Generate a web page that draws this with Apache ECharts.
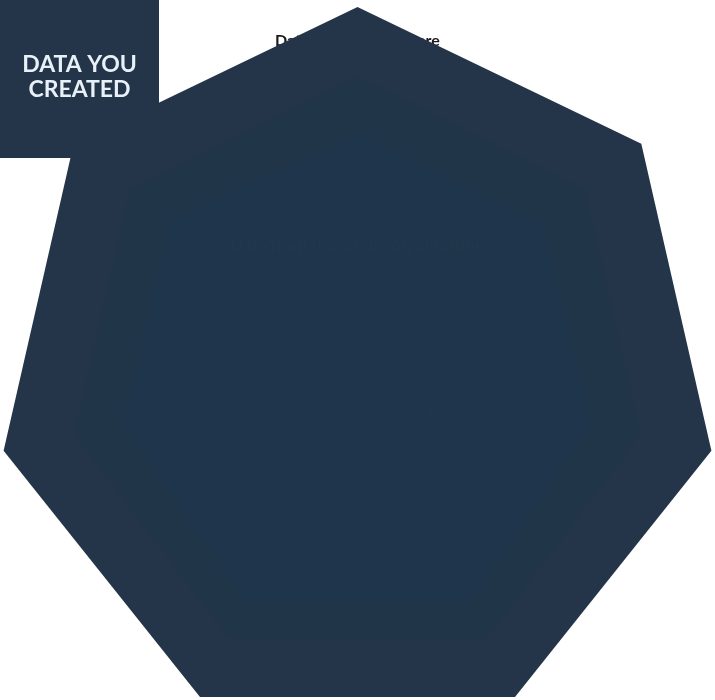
<!DOCTYPE html>
<html>
<head>
<meta charset="utf-8">
<script src="https://cdn.jsdelivr.net/npm/echarts@6/dist/echarts.min.js"></script>
<style>
html, body { margin: 0; padding: 0; background: #fff; }
#radar { width: 715px; height: 700px; }
</style>
</head>
<body>
<div id="radar"></div>
<script>
var radar = echarts.init(document.getElementById('radar'));

// 7 axes
var indicatorNames = ['A', 'B', 'C', 'D', 'E', 'F', 'G'];
var indicatorMax = [100, 100, 100, 100, 100, 100, 100];
// outer layer is full, inner layers barely show through
var createdValues = [100, 100, 100, 100, 100, 100, 100];
var wholeOrgValues = [81, 80, 80, 82, 82, 80, 80];
var yourOrgValues = [65, 66, 66, 71, 71, 66, 65];

var indicators = [];
for (var i = 0; i < indicatorNames.length; i++) {
	indicators.push({ name: indicatorNames[i], max: indicatorMax[i] });
}

function layer(name, values, color) {
	return {
		name: name,
		type: 'radar',
		symbol: 'none',
		lineStyle: { width: 0, opacity: 0 },
		areaStyle: { color: color, opacity: 1 },
		data: [{ value: values, name: name }]
	};
}

var option = {
	animation: false,
	graphic: [{
		// title sits under the polygon
		type: 'text',
		z: 0,
		left: 275,
		top: 33,
		style: {
			text: 'Data You Can Compare',
			fill: '#1a1a1a',
			font: 'bold 16px Lato, sans-serif'
		}
	}, {
		type: 'text',
		z: 10,
		left: 'center',
		top: 237,
		style: {
			text: 'Data from the whole organisation',
			fill: '#21374c',
			font: 'bold 17px Lato, sans-serif'
		}
	}, {
		type: 'text',
		z: 10,
		left: 'center',
		top: 405,
		style: {
			text: 'Data from your organisation',
			fill: '#20364c',
			font: 'bold 17px Lato, sans-serif'
		}
	}, {
		type: 'group',
		z: 10,
		left: 0,
		top: 0,
		children: [{
			type: 'rect',
			z: 10,
			shape: { x: 0, y: 0, width: 159, height: 158 },
			style: { fill: '#243449' }
		}, {
			type: 'text',
			z: 11,
			x: 79.5,
			y: 77,
			style: {
				text: 'DATA YOU\nCREATED',
				fill: '#e9f1f8',
				font: 'bold 23px Lato, sans-serif',
				lineHeight: 25,
				align: 'center',
				verticalAlign: 'middle'
			}
		}]
	}],
	radar: {
		center: [357.5, 370],
		radius: 363,
		startAngle: 90,
		shape: 'polygon',
		indicator: indicators,
		axisName: { show: false },
		axisLine: { show: false },
		axisTick: { show: false },
		axisLabel: { show: false },
		splitLine: { show: false },
		splitArea: { show: false }
	},
	series: [
		layer('Data you created', createdValues, '#243449'),
		layer('Whole organisation', wholeOrgValues, '#213549'),
		layer('Your organisation', yourOrgValues, '#1f354b')
	]
};
radar.setOption(option);
</script>
</body>
</html>
